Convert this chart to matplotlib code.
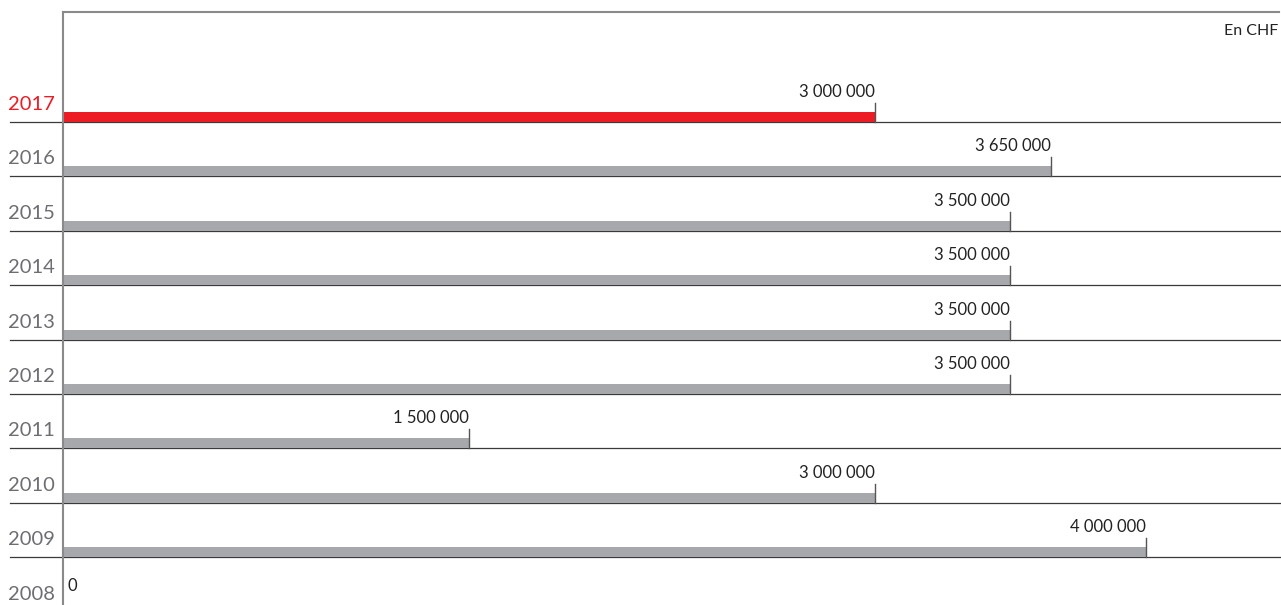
import matplotlib
matplotlib.use("Agg")
import matplotlib.pyplot as plt

plt.rcParams['font.family'] = ['Lato', 'DejaVu Sans']

years = ['2017', '2016', '2015', '2014', '2013', '2012', '2011', '2010', '2009', '2008']
values = [3000000, 3650000, 3500000, 3500000, 3500000, 3500000, 1500000, 3000000, 4000000, 0]
unit = 'En CHF'

red = '#ed1c24'
grey_bar = '#a7a8ab'
grey_txt = '#6d6e71'

fig = plt.figure(figsize=(12.81, 6.05), dpi=100)
ax = fig.add_axes([0, 0, 1, 1])
ax.set_xlim(-232759, 4500000)
ax.set_ylim(8.879, -2.243)
ax.axis('off')

px_y = 1 / 54.4   # one pixel in row units
x0, x1 = ax.get_xlim()
px_x = (x1 - x0) / 1281
top = -2.243


def fmt(v):
    return f"{v:,}".replace(',', ' ')


for i, (yr, v) in enumerate(zip(years, values)):
    col = red if i == 0 else grey_bar
    # baseline rule
    ax.plot([x0 + 10 * px_x, x1], [i, i], color='#3a3a3a', lw=0.9, zorder=1)
    if v > 0:
        ax.barh(i - 5 * px_y, v, height=10 * px_y, left=0, color=col, zorder=2)
        ax.plot([v, v], [i, i - 19 * px_y], color='#555555', lw=1, zorder=3)
        ax.text(v, i - 25 * px_y, fmt(v), ha='right', va='baseline',
                fontsize=12, color='#222222')
    else:
        ax.text(4 * px_x, i - 21 * px_y, fmt(v), ha='left', va='baseline',
                fontsize=12, color='#222222')
    ax.text(x0 + 55 * px_x, i - 12 * px_y, yr, ha='right', va='baseline',
            fontsize=14.5, color=red if i == 0 else grey_txt)

# vertical axis and top rule
ax.plot([0, 0], [top + 12 * px_y, 8.879], color='#8a8a8a', lw=1.5, zorder=4)
ax.plot([0, x1 - 2 * px_x], [top + 12 * px_y] * 2, color='#8a8a8a', lw=1.5)
ax.text(x1 - 3 * px_x, top + 35 * px_y, unit, ha='right', va='baseline',
        fontsize=11.5, color='#222222')

fig.savefig('out.png', dpi=100)
